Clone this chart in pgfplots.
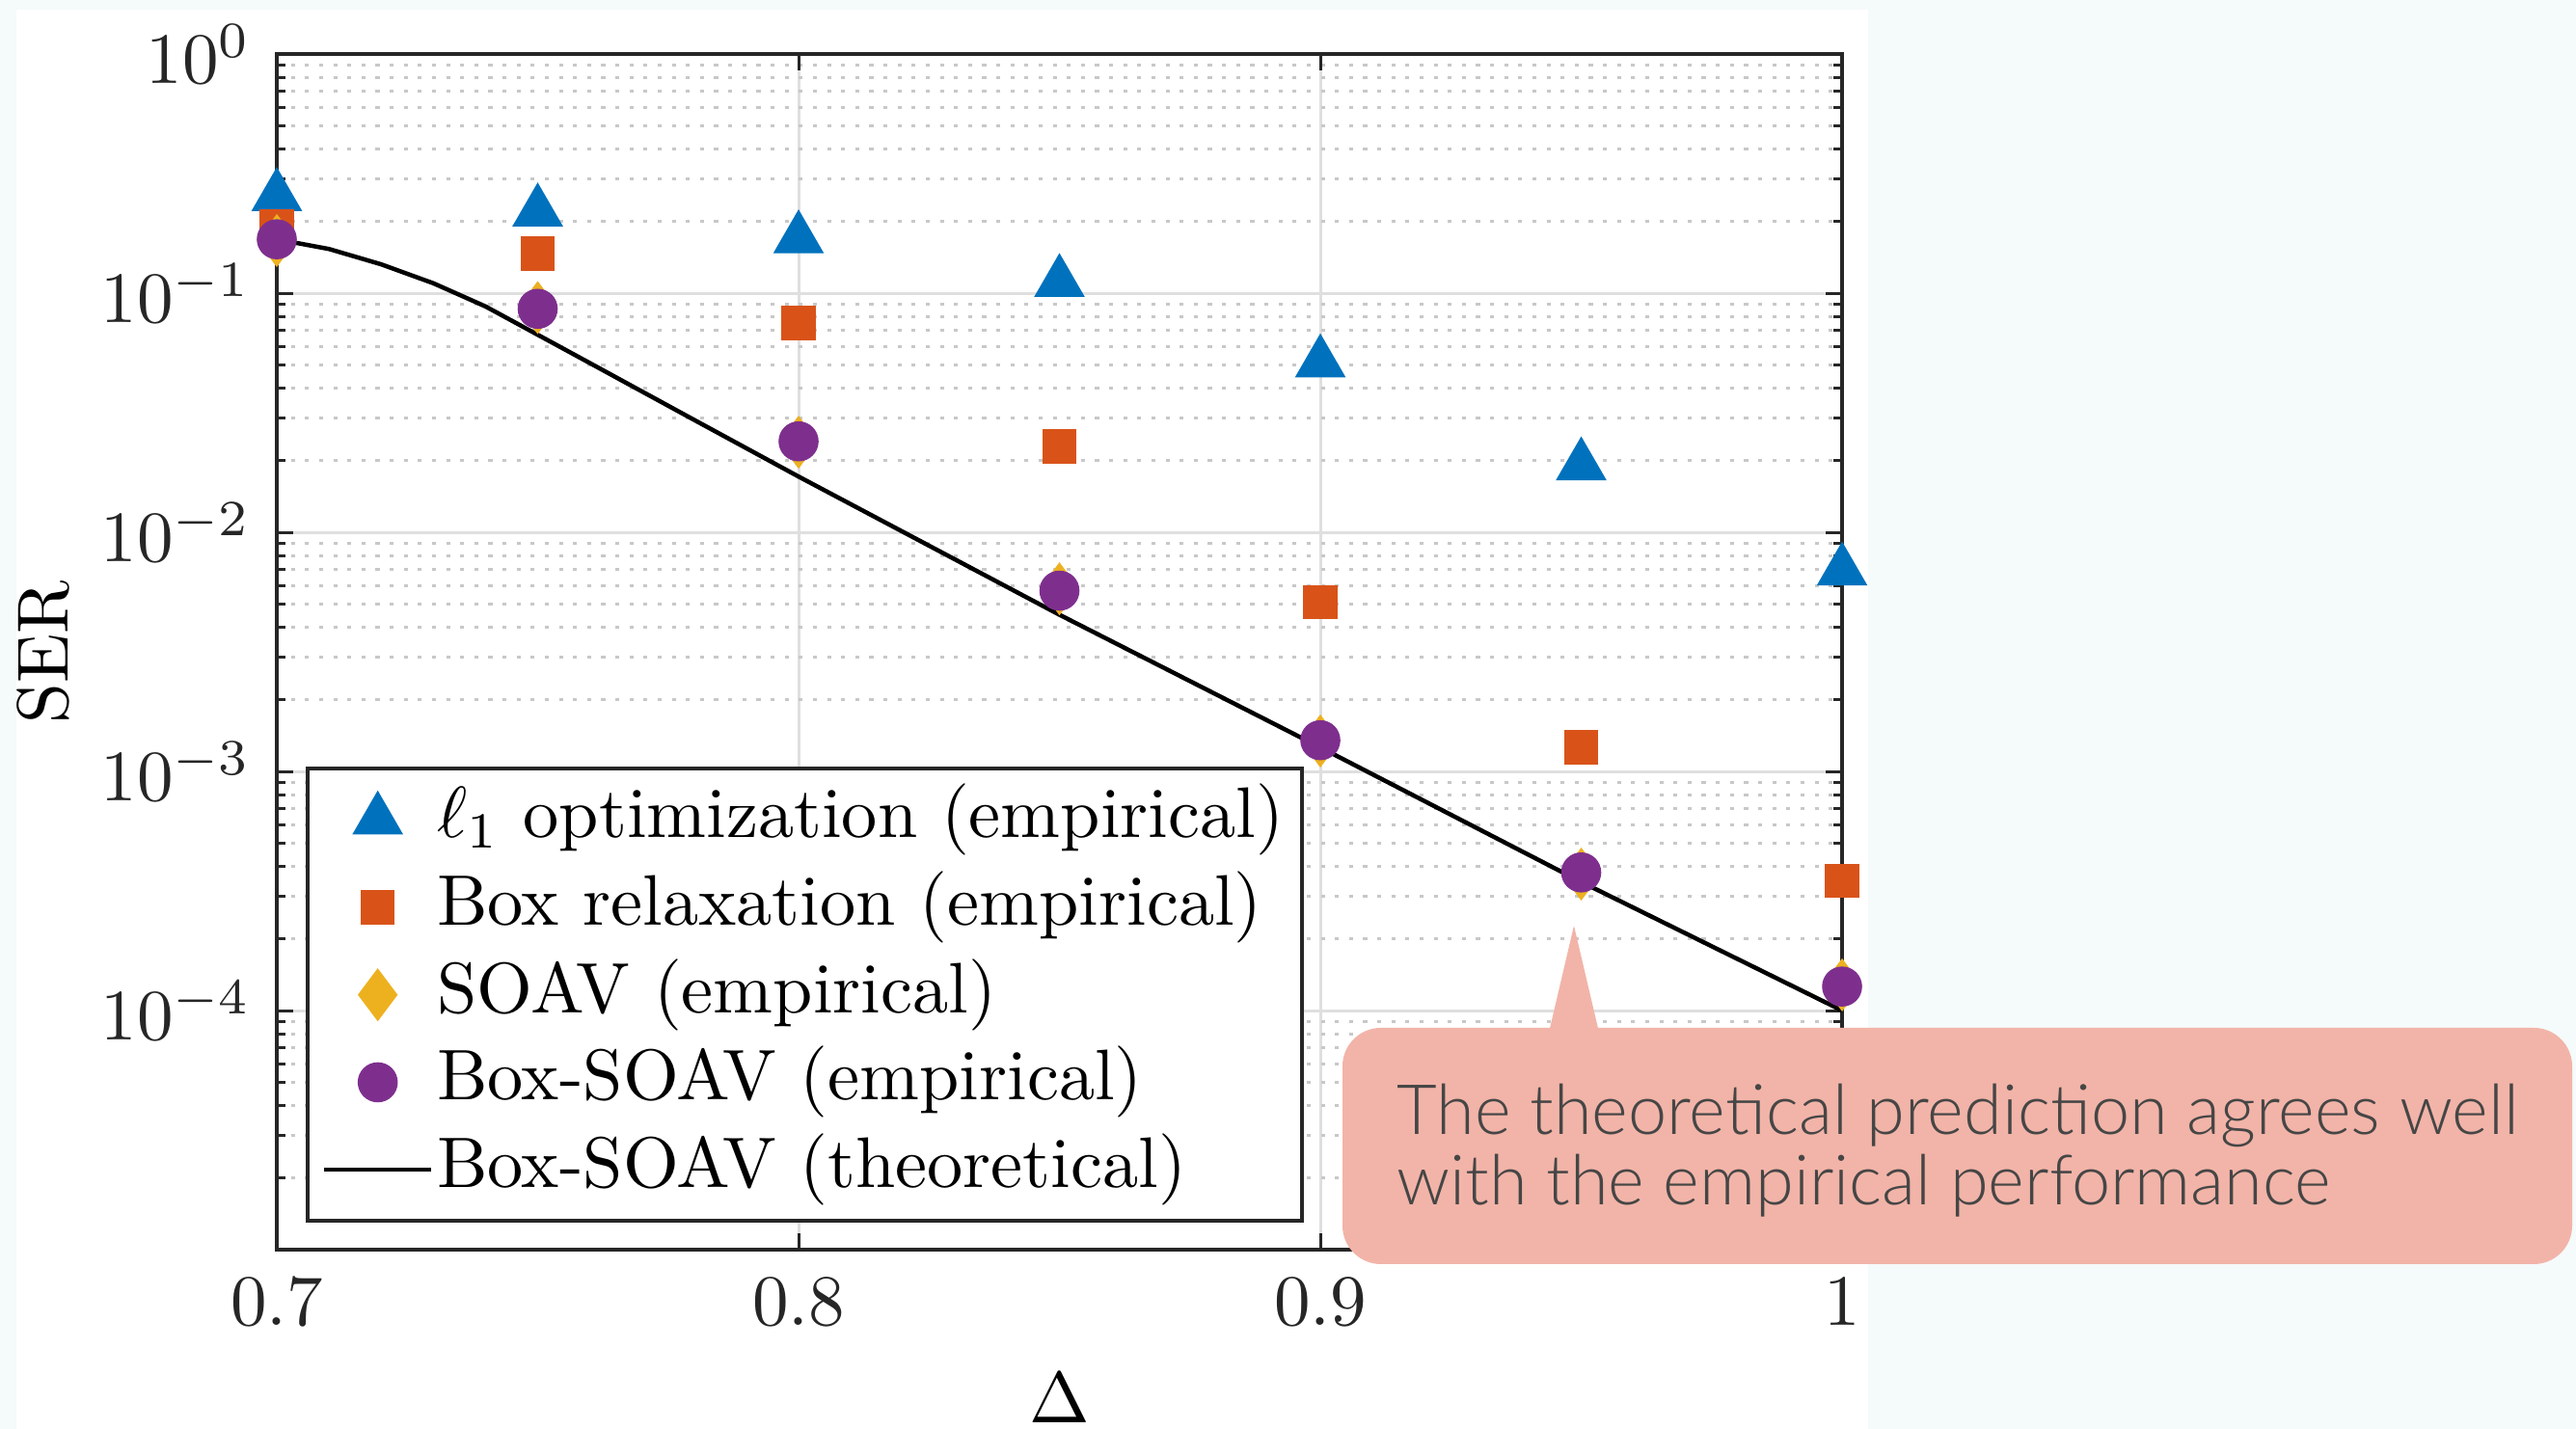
\documentclass[border=0pt]{standalone}
\usepackage{pgfplots}
\pgfplotsset{compat=1.18}
\usepackage{fontspec}
\newfontfamily\callfont{Lato}[UprightFont={* Light}]

\definecolor{bgmint}{RGB}{245,250,250}
\definecolor{mblue}{RGB}{0,114,189}
\definecolor{morange}{RGB}{217,83,25}
\definecolor{myellow}{RGB}{237,177,32}
\definecolor{mpurple}{RGB}{126,47,142}
\definecolor{axcol}{RGB}{38,38,38}
\definecolor{majgrid}{RGB}{223,223,223}
\definecolor{mingrid}{RGB}{200,200,200}
\definecolor{callfill}{RGB}{242,180,168}
\definecolor{calltext}{RGB}{70,70,70}

\begin{document}
\begin{tikzpicture}
% page and white panel, in pixel units of the reference
\begin{scope}[x=0.1333pt,y=-0.1333pt]
\fill[bgmint] (0,0) rectangle (2671,1482);
\fill[white] (17,10) rectangle (1937,1482);
\end{scope}
\useasboundingbox (0pt,0pt) rectangle (356.05pt,-197.55pt);

\begin{axis}[
    at={(38.26pt,-172.76pt)}, anchor=south west,
    width=216.35pt, height=165.29pt, scale only axis,
    ymode=log,
    xmin=0.7, xmax=1, ymin=1e-5, ymax=1,
    xtick={0.7,0.8,0.9,1},
    ytick={1e-5,1e-4,1e-3,1e-2,1e-1,1},
    yticklabels={,$10^{-4}$,$10^{-3}$,$10^{-2}$,$10^{-1}$,$10^{0}$},
    grid=both,
    major grid style={majgrid, line width=0.4pt},
    minor grid style={mingrid, line width=0.4pt, dash pattern=on 0.55pt off 1.4pt},
    major tick length=2.3pt, minor tick length=1.2pt,
    tick style={axcol, line width=0.4pt},
    axis line style={axcol, line width=0.45pt},
    tick label style={font=\fontsize{10}{12}\selectfont, text=axcol},
    xticklabel style={yshift=-0.5pt},
    label style={font=\fontsize{11}{13}\selectfont, text=axcol},
    xlabel={$\Delta$}, ylabel={SER},
    every axis x label/.style={at={(axis description cs:0.5,-0.124)}, anchor=center},
    every axis y label/.style={at={(axis description cs:-0.149,0.5)}, rotate=90, anchor=center},
    clip=false,
    legend cell align=left,
    legend style={at={(0.0185,0.0226)}, anchor=south west, draw=axcol, line width=0.5pt,
        fill=white, font=\fontsize{9.9}{11}\selectfont, inner xsep=2pt, inner ysep=1.6pt,
        row sep=1.2pt, nodes={inner sep=0.5pt, text height=7.4pt, text depth=2.5pt}},
    legend image code/.code={\draw[mark repeat=2,mark phase=2]
        plot coordinates {(0pt,0pt) (7.4pt,0pt) (14.8pt,0pt)};},
]
\addplot[only marks, mark=triangle*, mark size=3.85pt, mark options={fill=mblue, draw=mblue, line width=0.2pt}]
    coordinates {(0.7,0.254) (0.75,0.219) (0.8,0.169) (0.85,0.111) (0.9,0.0512) (0.95,0.0190) (1.0,0.0069)};
\addlegendentry{$\ell_1$ optimization (empirical)}
\addplot[only marks, mark=square*, mark size=2.27pt, mark options={fill=morange, draw=morange, line width=0.2pt}]
    coordinates {(0.7,0.19) (0.75,0.146) (0.8,0.075) (0.85,0.0228) (0.9,0.0051) (0.95,0.00126) (1.0,0.000348)};
\addlegendentry{Box relaxation (empirical)}
\addplot[only marks, mark=diamond*, mark size=3.5pt, mark options={fill=myellow, draw=myellow, line width=0.2pt}]
    coordinates {(0.7,0.166) (0.75,0.087) (0.8,0.0238) (0.85,0.0058) (0.9,0.00134) (0.95,0.000372) (1.0,0.000128)};
\addlegendentry{SOAV (empirical)}
\addplot[only marks, mark=*, mark size=2.67pt, mark options={fill=mpurple, draw=mpurple, line width=0.2pt}]
    coordinates {(0.7,0.168) (0.75,0.086) (0.8,0.024) (0.85,0.0057) (0.9,0.00135) (0.95,0.000378) (1.0,0.000126)};
\addlegendentry{Box-SOAV (empirical)}
\addplot[black, line width=0.6pt, no marks]
    coordinates {(0.70,0.168) (0.71,0.153) (0.72,0.132) (0.73,0.110) (0.74,0.088) (0.75,0.067)
                 (0.76,0.051) (0.78,0.0295) (0.80,0.0171) (0.85,0.00452) (0.90,0.00126)
                 (0.95,0.000345) (1.00,0.0001)};
\addlegendentry{Box-SOAV (theoretical)}
\end{axis}

% callout
\begin{scope}[x=0.1333pt,y=-0.1333pt]
\fill[callfill, rounded corners=5.3pt] (1392,1066) rectangle (2667,1311);
\fill[callfill] (1605,1075) -- (1632,960) -- (1659,1075) -- cycle;
\node[anchor=base west, inner sep=0, font=\callfont\fontsize{9.6}{11}\selectfont, text=calltext]
    at (1447,1177) {The theoretical prediction agrees well};
\node[anchor=base west, inner sep=0, font=\callfont\fontsize{9.6}{11}\selectfont, text=calltext]
    at (1447,1250) {with the empirical performance};
\end{scope}
\end{tikzpicture}
\end{document}
